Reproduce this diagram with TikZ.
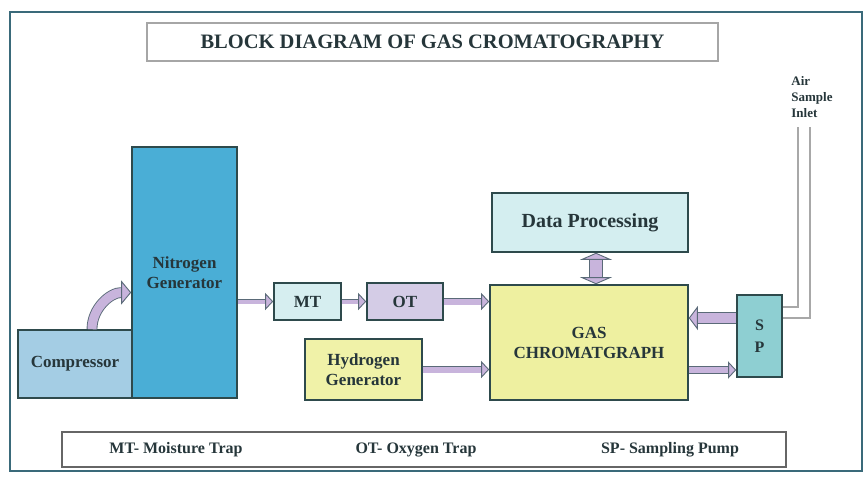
\documentclass[tikz,border=0pt]{standalone}
\usepackage{fontspec}
\setmainfont{Liberation Serif}
\usetikzlibrary{arrows.meta}
\definecolor{frameC}{HTML}{3A6A7A}
\definecolor{edgeC}{HTML}{2E4A4C}
\definecolor{textC}{HTML}{26363A}
\definecolor{ngC}{HTML}{4AAED6}
\definecolor{cpC}{HTML}{A4CDE4}
\definecolor{mtC}{HTML}{D6EEF0}
\definecolor{otC}{HTML}{D4CCE6}
\definecolor{gcC}{HTML}{EEF0A0}
\definecolor{hgC}{HTML}{F0F2A8}
\definecolor{dpC}{HTML}{D4EEF0}
\definecolor{spC}{HTML}{8ECFD2}
\definecolor{pipeF}{HTML}{C8B4DC}
\definecolor{pipeE}{HTML}{5A6A78}
\definecolor{tubeC}{HTML}{A8A8A8}
\tikzset{
  blk/.style={draw=edgeC, line width=1.6pt, fill=#1, text=textC, align=center, inner sep=0pt,
    font=\bfseries\fontsize{17}{20}\selectfont},
  pipe/.style={draw=pipeE, line width=0.9pt, double=pipeF, double distance=#1,
    -{Triangle[fill=pipeF, line width=0.9pt, length=8pt, width=17pt]}},
  tube/.style={draw=tubeC, line width=1.5pt},
  plain/.style={text=textC, font=\bfseries\fontsize{16}{19}\selectfont}
}
\begin{document}
\begin{tikzpicture}[x=1pt,y=-1pt]
  \useasboundingbox (0,0) rectangle (868,477);
  \draw[line width=2.5pt, frameC] (10,12) rectangle (862,471);

  \node[draw=gray!70, line width=1.5pt, minimum width=571pt, minimum height=38pt, text=textC,
        font=\bfseries\fontsize{20.5}{22}\selectfont] (TT) at (432.5,42) {BLOCK DIAGRAM OF GAS CROMATOGRAPHY};
  \node[text=textC, align=left, inner sep=0pt, font=\bfseries\fontsize{13}{16}\selectfont] (AI) at (812,97) {Air\\Sample\\Inlet};

  \node[blk=ngC, minimum width=105pt, minimum height=251pt] (NG) at (184.5,272.5) {Nitrogen\\Generator};
  \node[blk=cpC, minimum width=114pt, minimum height=68pt] (CP) at (75,364) {Compressor};
  \node[blk=mtC, minimum width=67pt, minimum height=37pt] (MT) at (307.5,301.5) {MT};
  \node[blk=otC, minimum width=76pt, minimum height=37pt] (OT) at (405,301.5) {OT};
  \node[blk=gcC, minimum width=198pt, minimum height=115pt] (GC) at (589,342.5) {GAS\\CHROMATGRAPH};
  \node[blk=hgC, minimum width=117pt, minimum height=61pt] (HG) at (363.5,369.5) {Hydrogen\\Generator};
  \node[blk=dpC, minimum width=196pt, minimum height=59pt, font=\bfseries\fontsize{20}{22}\selectfont] (DP) at (590,222.5) {Data Processing};
  \node[blk=spC, minimum width=45pt, minimum height=82pt, font=\bfseries\fontsize{16}{22}\selectfont] (SP) at (759.5,336) {S\\P};

  \node[draw=gray!80!black, line width=1.5pt, minimum width=724pt, minimum height=35pt] (LG) at (424,449.5) {};
  \node[plain] (LA) at (176,450) {MT- Moisture Trap};
  \node[plain] (LB) at (416,450) {OT- Oxygen Trap};
  \node[plain] (LC) at (670,450) {SP- Sampling Pump};

  \draw[pipe=9pt, arrows={-Triangle[fill=pipeF, line width=0.9pt, length=10pt, width=24pt]}]
    ([xshift=17pt]CP.north) to[out=90,in=180] ([yshift=-20pt]NG.west);
  \draw[pipe=4pt] (NG.east |- MT.west) -- (MT.west);
  \draw[pipe=4pt] (MT.east) -- (OT.west);
  \draw[pipe=6pt] (OT.east) -- (OT.east -| GC.west);
  \draw[pipe=6pt] (HG.east) -- (HG.east -| GC.west);
  \draw[pipe=12pt, arrows={{Triangle[fill=pipeF, line width=0.9pt, length=7pt, width=32pt]}-{Triangle[fill=pipeF, line width=0.9pt, length=7pt, width=32pt]}}]
    ([xshift=6pt]DP.south) -- ([xshift=6pt]DP.south |- GC.north);
  \coordinate (SPa) at ([yshift=18pt]SP.west);
  \coordinate (SPb) at ([yshift=-34pt]SP.west);
  \draw[pipe=10pt, arrows={-Triangle[fill=pipeF, line width=0.9pt, length=9pt, width=24pt]}] (SPa) -- (SPa -| GC.east);
  \draw[pipe=6pt] (SPb -| GC.east) -- (SPb);

  \coordinate (IA) at (798,127);
  \coordinate (IB) at (810,127);
  \draw[tube] (IA) |- ([yshift=29pt]SP.east);
  \draw[tube] (IB) |- ([yshift=18pt]SP.east);
\end{tikzpicture}
\end{document}
